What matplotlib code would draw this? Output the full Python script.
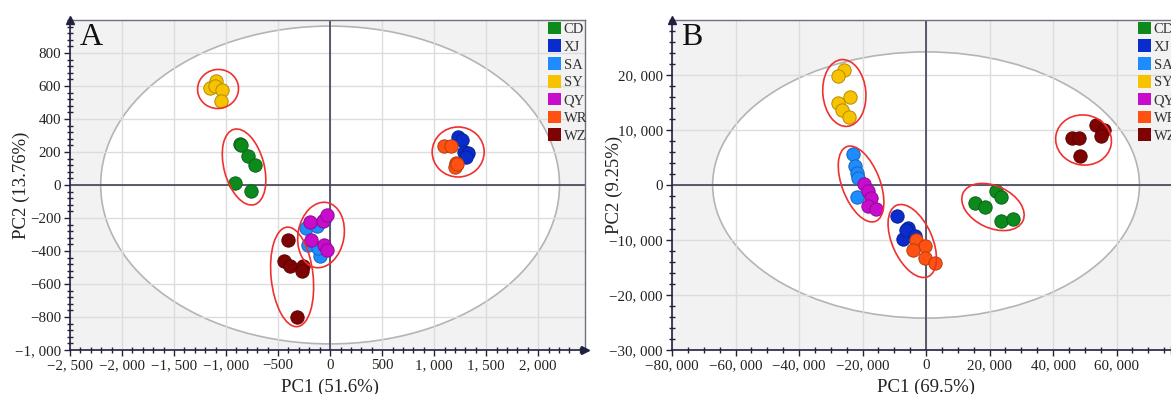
import matplotlib
matplotlib.use("Agg")
import matplotlib.pyplot as plt
from matplotlib.patches import Ellipse, Patch
from matplotlib.transforms import ScaledTranslation, blended_transform_factory
from matplotlib.ticker import MultipleLocator, FixedLocator, FuncFormatter
import matplotlib.colors as mcolors

plt.rcParams['font.family'] = ['Liberation Serif', 'DejaVu Serif']

# ---------------- data ----------------
groups = ['CD', 'XJ', 'SA', 'SY', 'QY', 'WR', 'WZ']
group_colors = ['#0c8a1c', '#0a2ccc', '#1e8cff', '#f7c300', '#c80ccc', '#ff5212', '#7e0404']

# Panel A scores
a_x = {
    'CD': [-867, -855, -787, -722, -914, -762],
    'XJ': [1226, 1263, 1288, 1328, 1310],
    'SA': [-236, -123, -214, -98, -116, -62],
    'SY': [-1096, -1157, -1107, -1041, -1049],
    'QY': [-189, -69, -25, -185, -54, -25],
    'WR': [1092, 1165, 1208, 1201, 1215],
    'WZ': [-406, -443, -388, -261, -272, -316],
}
a_y = {
    'CD': [251, 245, 177, 121, 12, -38],
    'XJ': [291, 275, 201, 191, 171],
    'SA': [-261, -251, -362, -428, -382, -211],
    'SY': [633, 589, 597, 573, 509],
    'QY': [-227, -221, -181, -336, -362, -396],
    'WR': [235, 235, 135, 110, 125],
    'WZ': [-336, -462, -492, -492, -523, -798],
}
# Panel B scores
b_x = {
    'CD': [21990, 23740, 15560, 18480, 23740, 27490],
    'XJ': [-9240, -5730, -7250, -6430, -3390],
    'SA': [-23040, -22340, -21870, -21290, -21640],
    'SY': [-25850, -27720, -23860, -27720, -26550, -24210],
    'QY': [-19530, -18130, -17430, -18130, -15670],
    'WR': [-3160, -470, -3980, -470, 2690],
    'WZ': [45960, 48070, 48540, 53570, 55910, 55090],
}
b_y = {
    'CD': [-1080, -2100, -3300, -4080, -6610, -6190],
    'XJ': [-5590, -7810, -9790, -8230, -9310],
    'SA': [5590, 3420, 2100, 1200, -2100],
    'SY': [20840, 19820, 16040, 14830, 13630, 12430],
    'QY': [180, -1020, -2400, -3780, -4380],
    'WR': [-9910, -11110, -11830, -13210, -14110],
    'WZ': [8530, 8530, 5230, 10930, 10030, 8830],
}

a_xlabel = 'PC1 (51.6%)'
a_ylabel = 'PC2 (13.76%)'
b_xlabel = 'PC1 (69.5%)'
b_ylabel = 'PC2 (9.25%)'

a_xticks = [-2500, -2000, -1500, -1000, -500, 0, 500, 1000, 1500, 2000]
a_yticks = [-1000, -800, -600, -400, -200, 0, 200, 400, 600, 800]
b_xticks = [-80000, -60000, -40000, -20000, 0, 20000, 40000, 60000]
b_yticks = [-30000, -20000, -10000, 0, 10000, 20000]

# Hotelling T2 ellipse semi-axes
a_t2 = (2205, 963)
b_t2 = (67200, 24200)

# group circles: (center x, center y)
a_circle_centers = [(-1077, 582), (-827, 109), (1231, 200), (-87, -303), (-365, -557)]
b_circle_centers = [(-25730, 16730), (-20460, 180), (-4340, -10180), (21080, -4000), (49600, 8180)]

# ---------------- styling / layout ----------------
W, H = 1171, 394
fig = plt.figure(figsize=(W / 100, H / 100), dpi=100)
fig.patch.set_facecolor('white')

def frac(l, r, t, b):
    return [l / W, (H - b) / H, (r - l) / W, (b - t) / H]

axA = fig.add_axes(frac(70, 585, 20, 350))
axB = fig.add_axes(frac(672, 1175, 20, 350))

# pixel sizes of the group circles (w, h, angle)
a_circle_shapes = [(41, 39, 10), (40, 78, 15), (52, 50, 0), (46, 66, -10), (42, 100, 6)]
b_circle_shapes = [(43, 67, 5), (38, 80, 21), (40, 78, 24), (66, 42, -25), (56, 50, -10)]


def fmt(v, pos=None):
    s = f"{abs(int(round(v))):,}".replace(',', ', ')
    return ('\u2212' + s) if v < 0 else s


def darker(c, f=0.72):
    r, g, b = mcolors.to_rgb(c)
    return (r * f, g * f, b * f)


def draw(ax, xs, ys, xlim, ylim, xticks, yticks, xminor, yminor, t2, centers, shapes,
         letter, xlabel, ylabel, ylab_x, leg_x):
    ax.set_facecolor('#f2f2f2')
    ax.set_xlim(*xlim)
    ax.set_ylim(*ylim)
    ax.set_axisbelow('line')
    ax.add_patch(Ellipse((0, 0), 2 * t2[0], 2 * t2[1], facecolor='white',
                         edgecolor='#b4b4b4', lw=1.2, zorder=1))
    ax.xaxis.set_major_locator(FixedLocator(xticks))
    ax.yaxis.set_major_locator(FixedLocator(yticks))
    ax.xaxis.set_minor_locator(MultipleLocator(xminor))
    ax.yaxis.set_minor_locator(MultipleLocator(yminor))
    ax.xaxis.set_major_formatter(FuncFormatter(fmt))
    ax.yaxis.set_major_formatter(FuncFormatter(fmt))
    ax.grid(True, which='major', color='#dcdcdc', lw=1.0)
    ax.tick_params(which='major', direction='out', length=4.5, width=1.0,
                   color='#202040', labelsize=10.8, labelcolor='#222222', pad=2)
    ax.tick_params(which='minor', direction='inout', length=4, width=1.0, color='#202040')
    ax.axhline(0, color='#40405a', lw=1.2, zorder=2)
    ax.axvline(0, color='#40405a', lw=1.2, zorder=2)
    for g, c in zip(groups, group_colors):
        ax.scatter(xs[g], ys[g], s=92, color=c, edgecolors=[darker(c)], linewidths=0.7,
                   zorder=3)
    for (cx, cy), (w, h, ang) in zip(centers, shapes):
        tr = fig.dpi_scale_trans + ScaledTranslation(cx, cy, ax.transData)
        ax.add_patch(Ellipse((0, 0), w / 100, h / 100, angle=ang, transform=tr,
                             fill=False, edgecolor='#f03030', lw=1.2, zorder=4))
    for side in ['top', 'right']:
        ax.spines[side].set_color('#707080')
        ax.spines[side].set_linewidth(1.0)
    for side in ['left', 'bottom']:
        ax.spines[side].set_color('#202040')
        ax.spines[side].set_linewidth(1.2)
    ax.plot([0], [1], marker='^', color='#202040', ms=6, transform=ax.transAxes,
            clip_on=False, zorder=6)
    ax.plot([1], [0], marker='>', color='#202040', ms=6, transform=ax.transAxes,
            clip_on=False, zorder=6)
    ax.text(0.018, 0.99, letter, transform=ax.transAxes, fontsize=23, va='top',
            ha='left', color='#111111')
    tb = blended_transform_factory(ax.transData, ax.transAxes)
    ax.text(0, -0.113, xlabel, transform=tb, ha='center', va='center', fontsize=13.5,
            color='#222222')
    ax.text(ylab_x, 0.5, ylabel, transform=ax.transAxes, ha='center', va='center',
            rotation=90, fontsize=13.5, color='#222222')
    handles = [Patch(facecolor=c, edgecolor='none') for c in group_colors]
    leg = ax.legend(handles, groups, loc='upper left', bbox_to_anchor=(leg_x, 0.995),
                    frameon=False, fontsize=10.5, handlelength=0.9, handleheight=0.95,
                    labelspacing=0.24, handletextpad=0.18, borderpad=0, borderaxespad=0)
    for t in leg.get_texts():
        t.set_color('#333333')
    leg.set_zorder(7)


draw(axA, a_x, a_y, (-2500, 2450), (-1000, 1000), a_xticks, a_yticks, 100, 40, a_t2,
     a_circle_centers, a_circle_shapes, 'A', a_xlabel, a_ylabel, -0.095, 0.928)
draw(axB, b_x, b_y, (-80000, 78400), (-30000, 30000), b_xticks, b_yticks, 5000, 2000, b_t2,
     b_circle_centers, b_circle_shapes, 'B', b_xlabel, b_ylabel, -0.115, 0.926)

fig.savefig('out.png', dpi=100)
